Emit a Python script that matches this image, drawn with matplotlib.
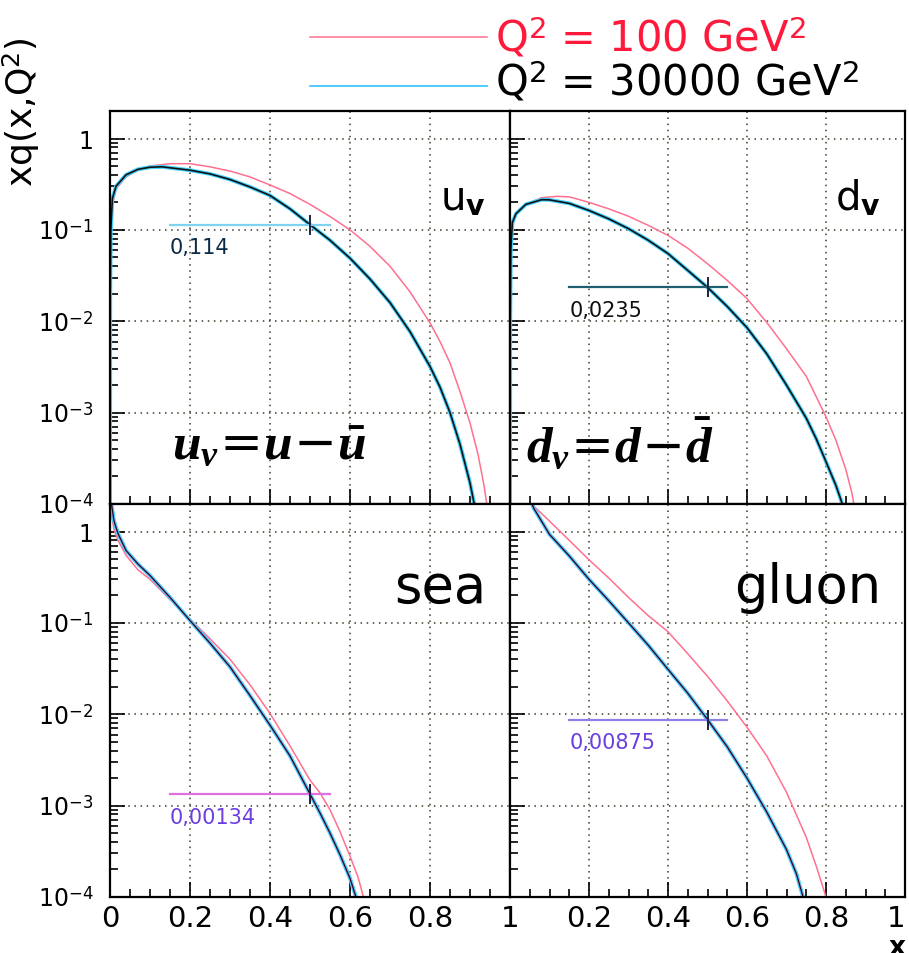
import numpy as np
import matplotlib.pyplot as plt
from matplotlib.lines import Line2D
from matplotlib.ticker import FixedLocator, LogLocator, NullFormatter, FuncFormatter

plt.rcParams['mathtext.fontset'] = 'custom'
plt.rcParams['mathtext.rm'] = 'DejaVu Sans'
plt.rcParams['mathtext.bf'] = 'DejaVu Sans:bold'
plt.rcParams['mathtext.it'] = 'Liberation Serif:italic:bold'

# =============================================================================
# curves (Q^2 = 100 and Q^2 = 30000 GeV^2)
# =============================================================================
uv_x_100 = [0.0001, 0.0005, 0.002, 0.006, 0.015, 0.04, 0.07, 0.1, 0.15, 0.2, 0.25, 0.3, 0.35,
            0.4, 0.45, 0.5, 0.55, 0.6, 0.65, 0.7, 0.75, 0.8, 0.825, 0.85, 0.875, 0.9, 0.92,
            0.935, 0.945]
uv_100 = [5e-5, 0.015, 0.08, 0.19, 0.28, 0.38, 0.45, 0.50, 0.53, 0.53, 0.49, 0.44, 0.38,
          0.31, 0.25, 0.19, 0.14, 0.10, 0.066, 0.040, 0.021, 0.0096, 0.006, 0.0035, 0.0017,
          7.7e-4, 3.5e-4, 1.6e-4, 8e-5]
uv_x_30k = [0.0001, 0.0005, 0.002, 0.006, 0.015, 0.04, 0.07, 0.1, 0.13, 0.2, 0.25, 0.3, 0.35,
            0.4, 0.45, 0.5, 0.55, 0.6, 0.65, 0.7, 0.75, 0.8, 0.825, 0.85, 0.875, 0.9, 0.915]
uv_30k = [5e-5, 0.02, 0.10, 0.22, 0.30, 0.40, 0.46, 0.485, 0.49, 0.45, 0.41, 0.356, 0.295,
          0.238, 0.17, 0.114, 0.077, 0.049, 0.029, 0.016, 0.0077, 0.0032, 0.0019, 0.001,
          4.5e-4, 1.7e-4, 8e-5]

dv_x_100 = [0.0001, 0.0005, 0.002, 0.006, 0.015, 0.04, 0.08, 0.12, 0.15, 0.2, 0.25, 0.3, 0.35,
            0.4, 0.45, 0.5, 0.55, 0.6, 0.65, 0.7, 0.75, 0.8, 0.825, 0.85, 0.865, 0.875]
dv_100 = [5e-5, 0.008, 0.05, 0.11, 0.15, 0.19, 0.225, 0.233, 0.23, 0.20, 0.17, 0.141, 0.112,
          0.087, 0.063, 0.0426, 0.028, 0.0177, 0.0097, 0.0050, 0.0025, 9e-4, 5e-4, 2.4e-4,
          1.35e-4, 8e-5]
dv_x_30k = [0.0001, 0.0005, 0.002, 0.006, 0.015, 0.04, 0.08, 0.1, 0.15, 0.2, 0.25, 0.3, 0.35,
            0.4, 0.45, 0.5, 0.55, 0.6, 0.65, 0.7, 0.75, 0.775, 0.8, 0.825, 0.845]
dv_30k = [5e-5, 0.01, 0.06, 0.12, 0.15, 0.19, 0.214, 0.213, 0.195, 0.163, 0.132, 0.103, 0.077,
          0.055, 0.036, 0.0235, 0.0145, 0.0085, 0.0044, 0.002, 8.7e-4, 5.2e-4, 2.9e-4,
          1.6e-4, 9e-5]

sea_x_100 = [0.004, 0.01, 0.02, 0.04, 0.07, 0.1, 0.15, 0.2, 0.25, 0.3, 0.35, 0.4, 0.45,
             0.5, 0.525, 0.55, 0.575, 0.6, 0.62, 0.64]
sea_100 = [1.5, 1.05, 0.8, 0.55, 0.38, 0.30, 0.18, 0.11, 0.067, 0.040, 0.021, 0.0102, 0.0045,
           0.0019, 1.38e-3, 9e-4, 5.2e-4, 2.8e-4, 1.65e-4, 8e-5]
sea_x_30k = [0.003, 0.01, 0.02, 0.04, 0.07, 0.1, 0.15, 0.2, 0.25, 0.3, 0.35, 0.4, 0.45,
             0.5, 0.525, 0.55, 0.575, 0.6, 0.622]
sea_30k = [2.1, 1.3, 0.95, 0.62, 0.44, 0.33, 0.19, 0.106, 0.060, 0.033, 0.016, 0.0076, 0.0035,
           0.00134, 8.3e-4, 5e-4, 2.9e-4, 1.6e-4, 8e-5]

glu_x_100 = [0.05, 0.06, 0.1, 0.15, 0.2, 0.25, 0.3, 0.35, 0.4, 0.45, 0.5, 0.55, 0.6, 0.65,
             0.7, 0.75, 0.775, 0.8, 0.81]
glu_100 = [2.2, 1.9, 1.3, 0.8, 0.49, 0.31, 0.19, 0.12, 0.08, 0.046, 0.026, 0.014, 0.0072,
           0.0035, 0.0014, 4.5e-4, 2.2e-4, 1.0e-4, 7e-5]
glu_x_30k = [0.05, 0.06, 0.1, 0.15, 0.2, 0.25, 0.3, 0.35, 0.4, 0.45, 0.5, 0.55, 0.6, 0.65,
             0.7, 0.725, 0.745]
glu_30k = [2.3, 1.8, 0.93, 0.54, 0.30, 0.175, 0.10, 0.057, 0.031, 0.017, 0.00875, 0.0044,
           0.002, 8.5e-4, 3.3e-4, 1.8e-4, 9e-5]

# values at x = 0.5 (Q^2 = 30000)
marks = [0.114, 0.0235, 0.00134, 0.00875]
mark_text = ['0,114', '0,0235', '0,00134', '0,00875']
names = [r'u$_{\mathbf{v}}$', r'd$_{\mathbf{v}}$', 'sea', 'gluon']

fig = plt.figure(figsize=(9.09, 9.54), dpi=100)

L1, L2, W1, W2 = 110/909, 510/909, 400/909, 395/909
B1, B2, H = 1-505/954, 1-898/954, 393/954
axes = [fig.add_axes([L1, B1, W1, H]), fig.add_axes([L2, B1, W2, H]),
        fig.add_axes([L1, B2, W1, H]), fig.add_axes([L2, B2, W2, H])]


def ylab(v, pos):
    if abs(v - 1) < 1e-9:
        return '1'
    return r'$10^{%d}$' % int(round(np.log10(v)))


for i, ax in enumerate(axes):
    ax.set_yscale('log')
    ax.set_xlim(0, 1)
    ax.set_ylim(1e-4, 2)
    ax.set_xticks([0, 0.2, 0.4, 0.6, 0.8, 1])
    ax.xaxis.set_minor_locator(FixedLocator(np.arange(0, 1.001, 0.05)))
    ax.yaxis.set_major_locator(FixedLocator([1e-4, 1e-3, 1e-2, 1e-1, 1]))
    ax.yaxis.set_minor_locator(LogLocator(base=10, subs=np.arange(2, 10), numticks=30))
    ax.yaxis.set_minor_formatter(NullFormatter())
    ax.tick_params(which='both', direction='in', top=False, right=False, width=1.2, colors='black')
    ax.tick_params(which='major', length=11)
    ax.tick_params(which='minor', length=6)
    ax.grid(True, which='major', color='#3a3a2a', linestyle=(0, (1, 3)), linewidth=1.1)
    for s in ax.spines.values():
        s.set_linewidth(1.6)
    if i % 2 == 0:
        ax.yaxis.set_major_formatter(FuncFormatter(ylab))
        ax.tick_params(axis='y', labelsize=17, pad=12)
    else:
        ax.set_yticklabels([])
    if i >= 2:
        labs = ['0', '0.2', '0.4', '0.6', '0.8', '1'] if i == 2 else ['', '0.2', '0.4', '0.6', '0.8', '1']
        ax.set_xticklabels(labs)
        ax.tick_params(axis='x', labelsize=21, pad=5)
    else:
        ax.set_xticklabels([])
axes[3].get_xticklabels()[-1].set_ha('right')

curves = [(uv_x_100, uv_100, uv_x_30k, uv_30k), (dv_x_100, dv_100, dv_x_30k, dv_30k),
          (sea_x_100, sea_100, sea_x_30k, sea_30k), (glu_x_100, glu_100, glu_x_30k, glu_30k)]
line_cols = ['#7fd2f0', '#1f6070', '#e070e0', '#8a80e8']
text_cols = ['#0a2a45', '#101010', '#6a3ee0', '#6a3ee0']

for i, ax in enumerate(axes):
    x1, y1, x2, y2 = curves[i]
    ax.plot(x1, y1, color='#ff7090', lw=1.1)
    ax.plot(x2, y2, color='#40d0ff', lw=2.8)
    if i >= 2:
        ax.plot(x2, y2, color='#e040d0', lw=1.0)
    ax.plot(x2, y2, color='#111111', lw=1.2 if i < 2 else 0.8)
    ax.plot([0.15, 0.55], [marks[i], marks[i]], color=line_cols[i], lw=1.6)
    ax.plot([0.5], [marks[i]], marker='|', ms=14, mew=1.4, color='#202040')
    ax.annotate(mark_text[i], (0.15, marks[i]), xytext=(0, -9), textcoords='offset points',
                ha='left', va='top', fontsize=15, color=text_cols[i])
    fs = 29 if i < 2 else 38
    ax.text(0.94, 0.75, names[i], transform=ax.transAxes, ha='right', va='baseline', fontsize=fs)

axes[0].text(0.155, 4.5e-4, r'$u_v\!=\!u\!-\!\bar{u}$', fontsize=37, va='center', ha='left')
axes[1].text(0.04, 4.5e-4, r'$d_v\!=\!d\!-\!\bar{d}$', fontsize=37, va='center', ha='left')

# legend
fig.add_artist(Line2D([310/909, 487/909], [1-38/954]*2, color='#ff7090', lw=1.1))
fig.add_artist(Line2D([310/909, 487/909], [1-87/954]*2, color='#40c8ff', lw=1.3))
fig.text(495/909, 1-38/954, r'Q$^2$ = 100 GeV$^2$', color='#ff1a3c', fontsize=30, va='center')
fig.text(495/909, 1-82/954, r'Q$^2$ = 30000 GeV$^2$', color='black', fontsize=30, va='center')

fig.text(0.024, 1-112/954, r'xq(x,Q$^2$)', rotation=90, fontsize=26, ha='center', va='center')
fig.text(0.996, -0.007, 'x', fontsize=19, ha='right', va='bottom', fontweight='bold')

fig.savefig('out.png', dpi=100)
